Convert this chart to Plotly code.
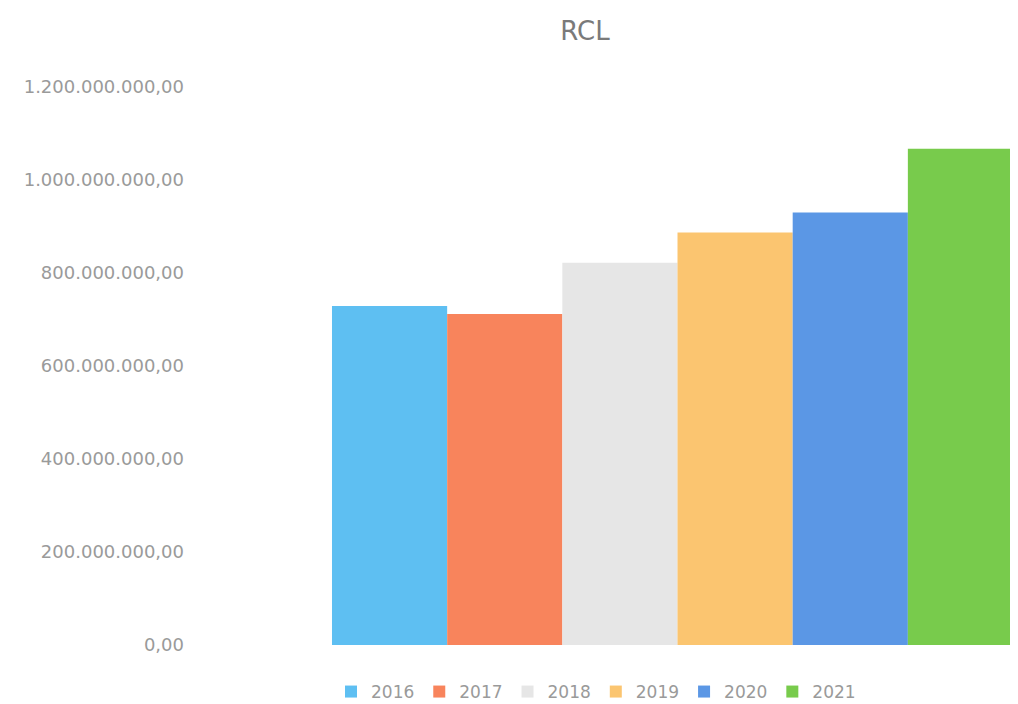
import plotly.graph_objects as go

# Data
category = ["RCL"]
years = ["2016", "2017", "2018", "2019", "2020", "2021"]
values = [729_000_000, 712_000_000, 822_000_000, 887_000_000, 930_000_000, 1_067_000_000]

# Styles
colors = ["#5EBFF2", "#F8845C", "#E6E6E6", "#FBC570", "#5B97E5", "#78CB4C"]

# The page body adds an 8px margin, so the figure is sized/offset accordingly
W, H = 1010, 696

fig = go.Figure()
for yr, val, col in zip(years, values, colors):
    fig.add_trace(go.Bar(
        name=yr, x=category, y=[val],
        marker=dict(color=col, line=dict(width=0)),
    ))

fig.update_layout(
    width=W, height=H,
    paper_bgcolor="white", plot_bgcolor="white",
    barmode="group", bargap=0.3, bargroupgap=0,
    separators=",.",
    margin=dict(l=184, r=0, t=79, b=59),
    title=dict(text="RCL", x=577/W, xref="container", xanchor="center",
               y=1 - 23/H, yref="container", yanchor="middle",
               font=dict(family="DejaVu Sans", size=26, color="#7a7a7a")),
    font=dict(family="DejaVu Sans", color="#9a9a9a"),
    legend=dict(orientation="h", x=588/W, xref="container", xanchor="center",
                y=1 - 684/H, yref="container", yanchor="middle",
                font=dict(family="DejaVu Sans", size=17, color="#9a9a9a"),
                itemwidth=30, traceorder="normal"),
    showlegend=True,
)
fig.update_xaxes(range=[-0.4918, 0.3449], showticklabels=False, showgrid=False,
                 zeroline=False, showline=False, ticks="")
fig.update_yaxes(range=[0, 1_200_000_000], dtick=200_000_000, tickformat=",.2f",
                 showgrid=False, zeroline=False, showline=False, ticks="",
                 tickfont=dict(family="DejaVu Sans", size=18, color="#9a9a9a"),
                 ticklabelstandoff=7)

fig.write_html("out.html")
